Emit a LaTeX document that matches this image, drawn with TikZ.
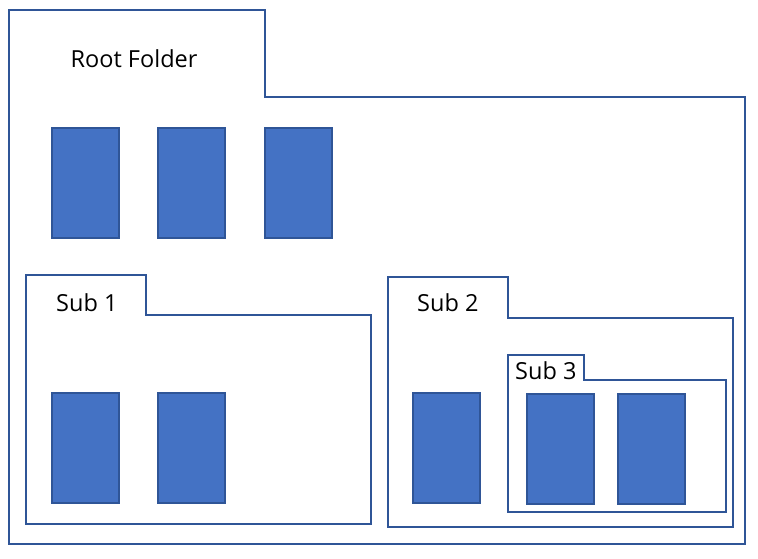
\documentclass[tikz,border=0pt]{standalone}
\usepackage{fontspec}
\setmainfont{Open Sans}
\usepackage{tikz}

\definecolor{edgeblue}{HTML}{2F5597}
\definecolor{fileblue}{HTML}{4472C4}

\tikzset{
  folderline/.style={draw=edgeblue, line width=2pt, line join=miter, fill=white},
  filebox/.style={draw=edgeblue, line width=2pt, fill=fileblue, inner sep=0pt,
    minimum width=67pt, minimum height=110pt},
  foldername/.style={anchor=base west, inner sep=0pt, font=\fontsize{23.5}{28}\selectfont}
}

% folder outline: left, top, tab right, tab bottom, right, bottom
\newcommand{\drawfolder}[6]{%
  \draw[folderline] (#1,#2)--(#3,#2)--(#3,#4)--(#5,#4)--(#5,#6)--(#1,#6)--cycle;}

\begin{document}
\begin{tikzpicture}[x=1pt, y=-1pt]
				\useasboundingbox (0,0) rectangle (758,558);
				%Root
				\drawfolder{9}{10}{265}{97}{745}{544}
				\node[foldername] (rootname) at (70.5,67.5) {Root Folder};
				\foreach \i/\cx in {1/85.5, 2/191.5, 3/298.5}
					\node[filebox] (rootfile\i) at (\cx,183) {};
				%Sub 1
				\drawfolder{26}{275}{146}{315}{371}{524}
				\node[foldername] (subname1) at (56,311.5) {Sub 1};
				\node[filebox] (subfileA) at (85,448) {};
				\node[filebox] (subfileB) at (191,448) {};
				%Sub 2
				\drawfolder{388}{277}{508}{318}{733}{527}
				\node[foldername] (subname2) at (417,311.5) {Sub 2};
				\node[filebox] (subfileC) at (446.5,448) {};
				%Sub 3
				\drawfolder{508}{355}{584}{380}{726}{512}
				\node[foldername] (subname3) at (515,379.5) {Sub 3};
				\node[filebox] (subfileD) at (560.5,449) {};
				\node[filebox] (subfileE) at (651.5,449) {};
\end{tikzpicture}
\end{document}
